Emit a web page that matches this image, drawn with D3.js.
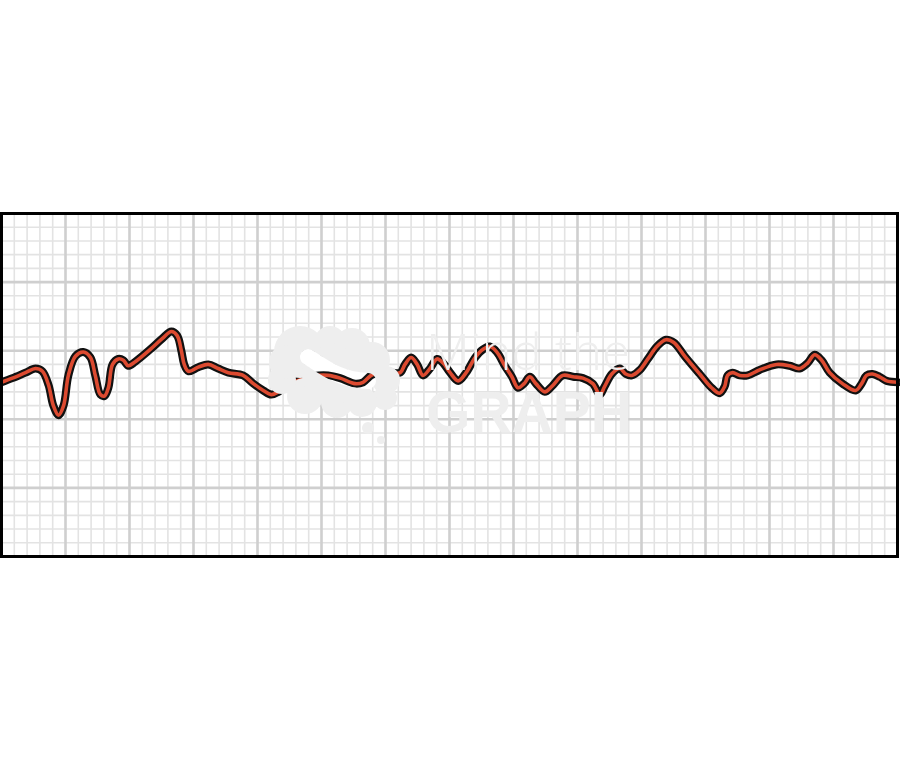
<!DOCTYPE html>
<html><head><meta charset="utf-8">
<script src="https://cdn.jsdelivr.net/npm/d3@7"></script>
<style>html,body{margin:0;padding:0;background:#fff;}svg{display:block;}</style>
</head><body>
<script>
// ECG strip: time in seconds, amplitude in mV
const timeSec = [0.000,0.034,0.075,0.106,0.128,0.147,0.162,0.178,0.194,0.209,0.231,0.256,0.278,0.293,0.309,0.322,0.334,0.347,0.365,0.381,0.396,0.418,0.465,0.503,0.531,0.549,0.562,0.571,0.584,0.615,0.646,0.677,0.709,0.755,0.787,0.818,0.843,0.865,0.902,0.949,0.990,1.021,1.058,1.105,1.130,1.155,1.189,1.221,1.246,1.261,1.280,1.299,1.317,1.339,1.361,1.380,1.402,1.427,1.452,1.480,1.505,1.526,1.548,1.573,1.595,1.614,1.633,1.651,1.670,1.698,1.720,1.754,1.786,1.817,1.848,1.854,1.870,1.885,1.907,1.932,1.951,1.970,1.995,2.020,2.048,2.076,2.101,2.135,2.182,2.219,2.244,2.260,2.269,2.285,2.307,2.332,2.369,2.422,2.463,2.494,2.519,2.541,2.563,2.588,2.628,2.669,2.688,2.703,2.722,2.744,2.766,2.800];
const amplitudeMv = [0.02,0.05,0.09,0.12,0.10,0.00,-0.15,-0.22,-0.15,0.07,0.21,0.24,0.20,0.07,-0.07,-0.08,-0.02,0.15,0.19,0.18,0.14,0.17,0.26,0.34,0.39,0.36,0.25,0.15,0.10,0.13,0.15,0.12,0.09,0.07,0.01,-0.04,-0.07,-0.05,0.01,0.05,0.07,0.07,0.05,0.01,0.02,0.07,0.10,0.09,0.09,0.15,0.20,0.15,0.07,0.12,0.19,0.16,0.09,0.03,0.09,0.20,0.26,0.28,0.24,0.14,0.06,-0.02,0.01,0.06,0.01,-0.05,-0.01,0.07,0.06,0.05,0.01,-0.01,-0.07,-0.01,0.08,0.12,0.08,0.07,0.11,0.19,0.28,0.33,0.31,0.21,0.08,-0.02,-0.06,-0.01,0.07,0.09,0.07,0.07,0.11,0.15,0.14,0.12,0.16,0.22,0.18,0.09,0.01,-0.04,0.01,0.07,0.08,0.06,0.03,0.02];
const timeDomain = [0, 2.8];
const mvDomain = [-1.25, 1.25];
const minorTimeStep = 0.04, majorTimeStep = 0.2;
const minorMvStep = 0.1, majorMvStep = 0.5;
const watermarkLines = ["Mind the", "GRAPH"];

(function () {
const W = 900, H = 772;
const svg = d3.select("body").append("svg").attr("width", W).attr("height", H);
const pL = 1.5, pR = 897.5, pT = 213.5, pB = 556.5;
const x = d3.scaleLinear().domain(timeDomain).range([pL, pR]);
const y = d3.scaleLinear().domain(mvDomain).range([pB, pT]);

const nMinorX = Math.round((timeDomain[1]-timeDomain[0])/minorTimeStep);
const minorXs = d3.range(1, nMinorX).map(i => timeDomain[0] + i*minorTimeStep);
const nMinorY = Math.round((mvDomain[1]-mvDomain[0])/minorMvStep);
const minorYs = d3.range(1, nMinorY).map(i => mvDomain[0] + i*minorMvStep);
const isMajor = (v, base, step) => Math.abs(((v-base)/step) - Math.round((v-base)/step)) < 1e-6;

const g = svg.append("g");
g.selectAll(".mx").data(minorXs.filter(v => !isMajor(v, timeDomain[0], majorTimeStep))).join("line")
  .attr("x1", d => x(d)).attr("x2", d => x(d)).attr("y1", pT).attr("y2", pB)
  .attr("stroke", "#e3e3e3").attr("stroke-width", 1.6);
g.selectAll(".my").data(minorYs.filter(v => !isMajor(v, mvDomain[0], majorMvStep))).join("line")
  .attr("y1", d => y(d)).attr("y2", d => y(d)).attr("x1", pL).attr("x2", pR)
  .attr("stroke", "#e3e3e3").attr("stroke-width", 1.6);
g.selectAll(".Mx").data(minorXs.filter(v => isMajor(v, timeDomain[0], majorTimeStep))).join("line")
  .attr("x1", d => x(d)).attr("x2", d => x(d)).attr("y1", pT).attr("y2", pB)
  .attr("stroke", "#cfcfcf").attr("stroke-width", 2.6);
g.selectAll(".My").data(minorYs.filter(v => isMajor(v, mvDomain[0], majorMvStep))).join("line")
  .attr("y1", d => y(d)).attr("y2", d => y(d)).attr("x1", pL).attr("x2", pR)
  .attr("stroke", "#cfcfcf").attr("stroke-width", 2.6);

const sPath = "M308,357 C325,368 340,380 368,381";
svg.append("path").attr("d", sPath)
  .attr("fill", "none").attr("stroke", "#ffffff").attr("stroke-width", 16).attr("stroke-linecap", "round");

const pts = timeSec.map((t, i) => [t, amplitudeMv[i]]);
const line = d3.line().x(d => x(d[0])).y(d => y(d[1])).curve(d3.curveCatmullRom.alpha(0.5));
svg.append("path").attr("d", line(pts)).attr("fill", "none").attr("stroke", "#111")
  .attr("stroke-width", 8).attr("stroke-linejoin", "round").attr("stroke-linecap", "round");
svg.append("path").attr("d", line(pts)).attr("fill", "none").attr("stroke", "#dc4a30")
  .attr("stroke-width", 3.6).attr("stroke-linejoin", "round").attr("stroke-linecap", "round");

const defs = svg.append("defs");
const mask = defs.append("mask").attr("id", "logoMask");
mask.append("rect").attr("x", 0).attr("y", 0).attr("width", W).attr("height", H).attr("fill", "#fff");
mask.append("path").attr("d", sPath)
  .attr("fill", "none").attr("stroke", "#000").attr("stroke-width", 16).attr("stroke-linecap", "round");
const blob = [[300,352,26],[330,342,16],[352,346,18],[372,360,18],[386,380,14],[385,398,12],[362,402,15],[337,402,16],[305,396,18],[282,380,14],[286,362,17],[332,375,30],[368,428,6],[381,440,4]];
svg.append("g").attr("mask", "url(#logoMask)").selectAll("circle").data(blob).join("circle")
  .attr("cx", d => d[0]).attr("cy", d => d[1]).attr("r", d => d[2]).attr("fill", "#eeeeee");

svg.append("text").text(watermarkLines[0]).attr("x", 426).attr("y", 370)
  .attr("font-family", "Open Sans, sans-serif").attr("font-weight", 300).attr("font-size", 50)
  .attr("textLength", 204).attr("lengthAdjust", "spacingAndGlyphs").attr("fill", "#eeeeee");
svg.append("text").text(watermarkLines[1]).attr("x", 426).attr("y", 432)
  .attr("font-family", "Liberation Sans, Arial, sans-serif").attr("font-weight", 700).attr("font-size", 58)
  .attr("textLength", 206).attr("lengthAdjust", "spacingAndGlyphs").attr("fill", "#eeeeee");

svg.append("rect").attr("x", pL).attr("y", pT).attr("width", pR-pL).attr("height", pB-pT)
  .attr("fill", "none").attr("stroke", "#000").attr("stroke-width", 3);
})();
</script>
</body></html>
